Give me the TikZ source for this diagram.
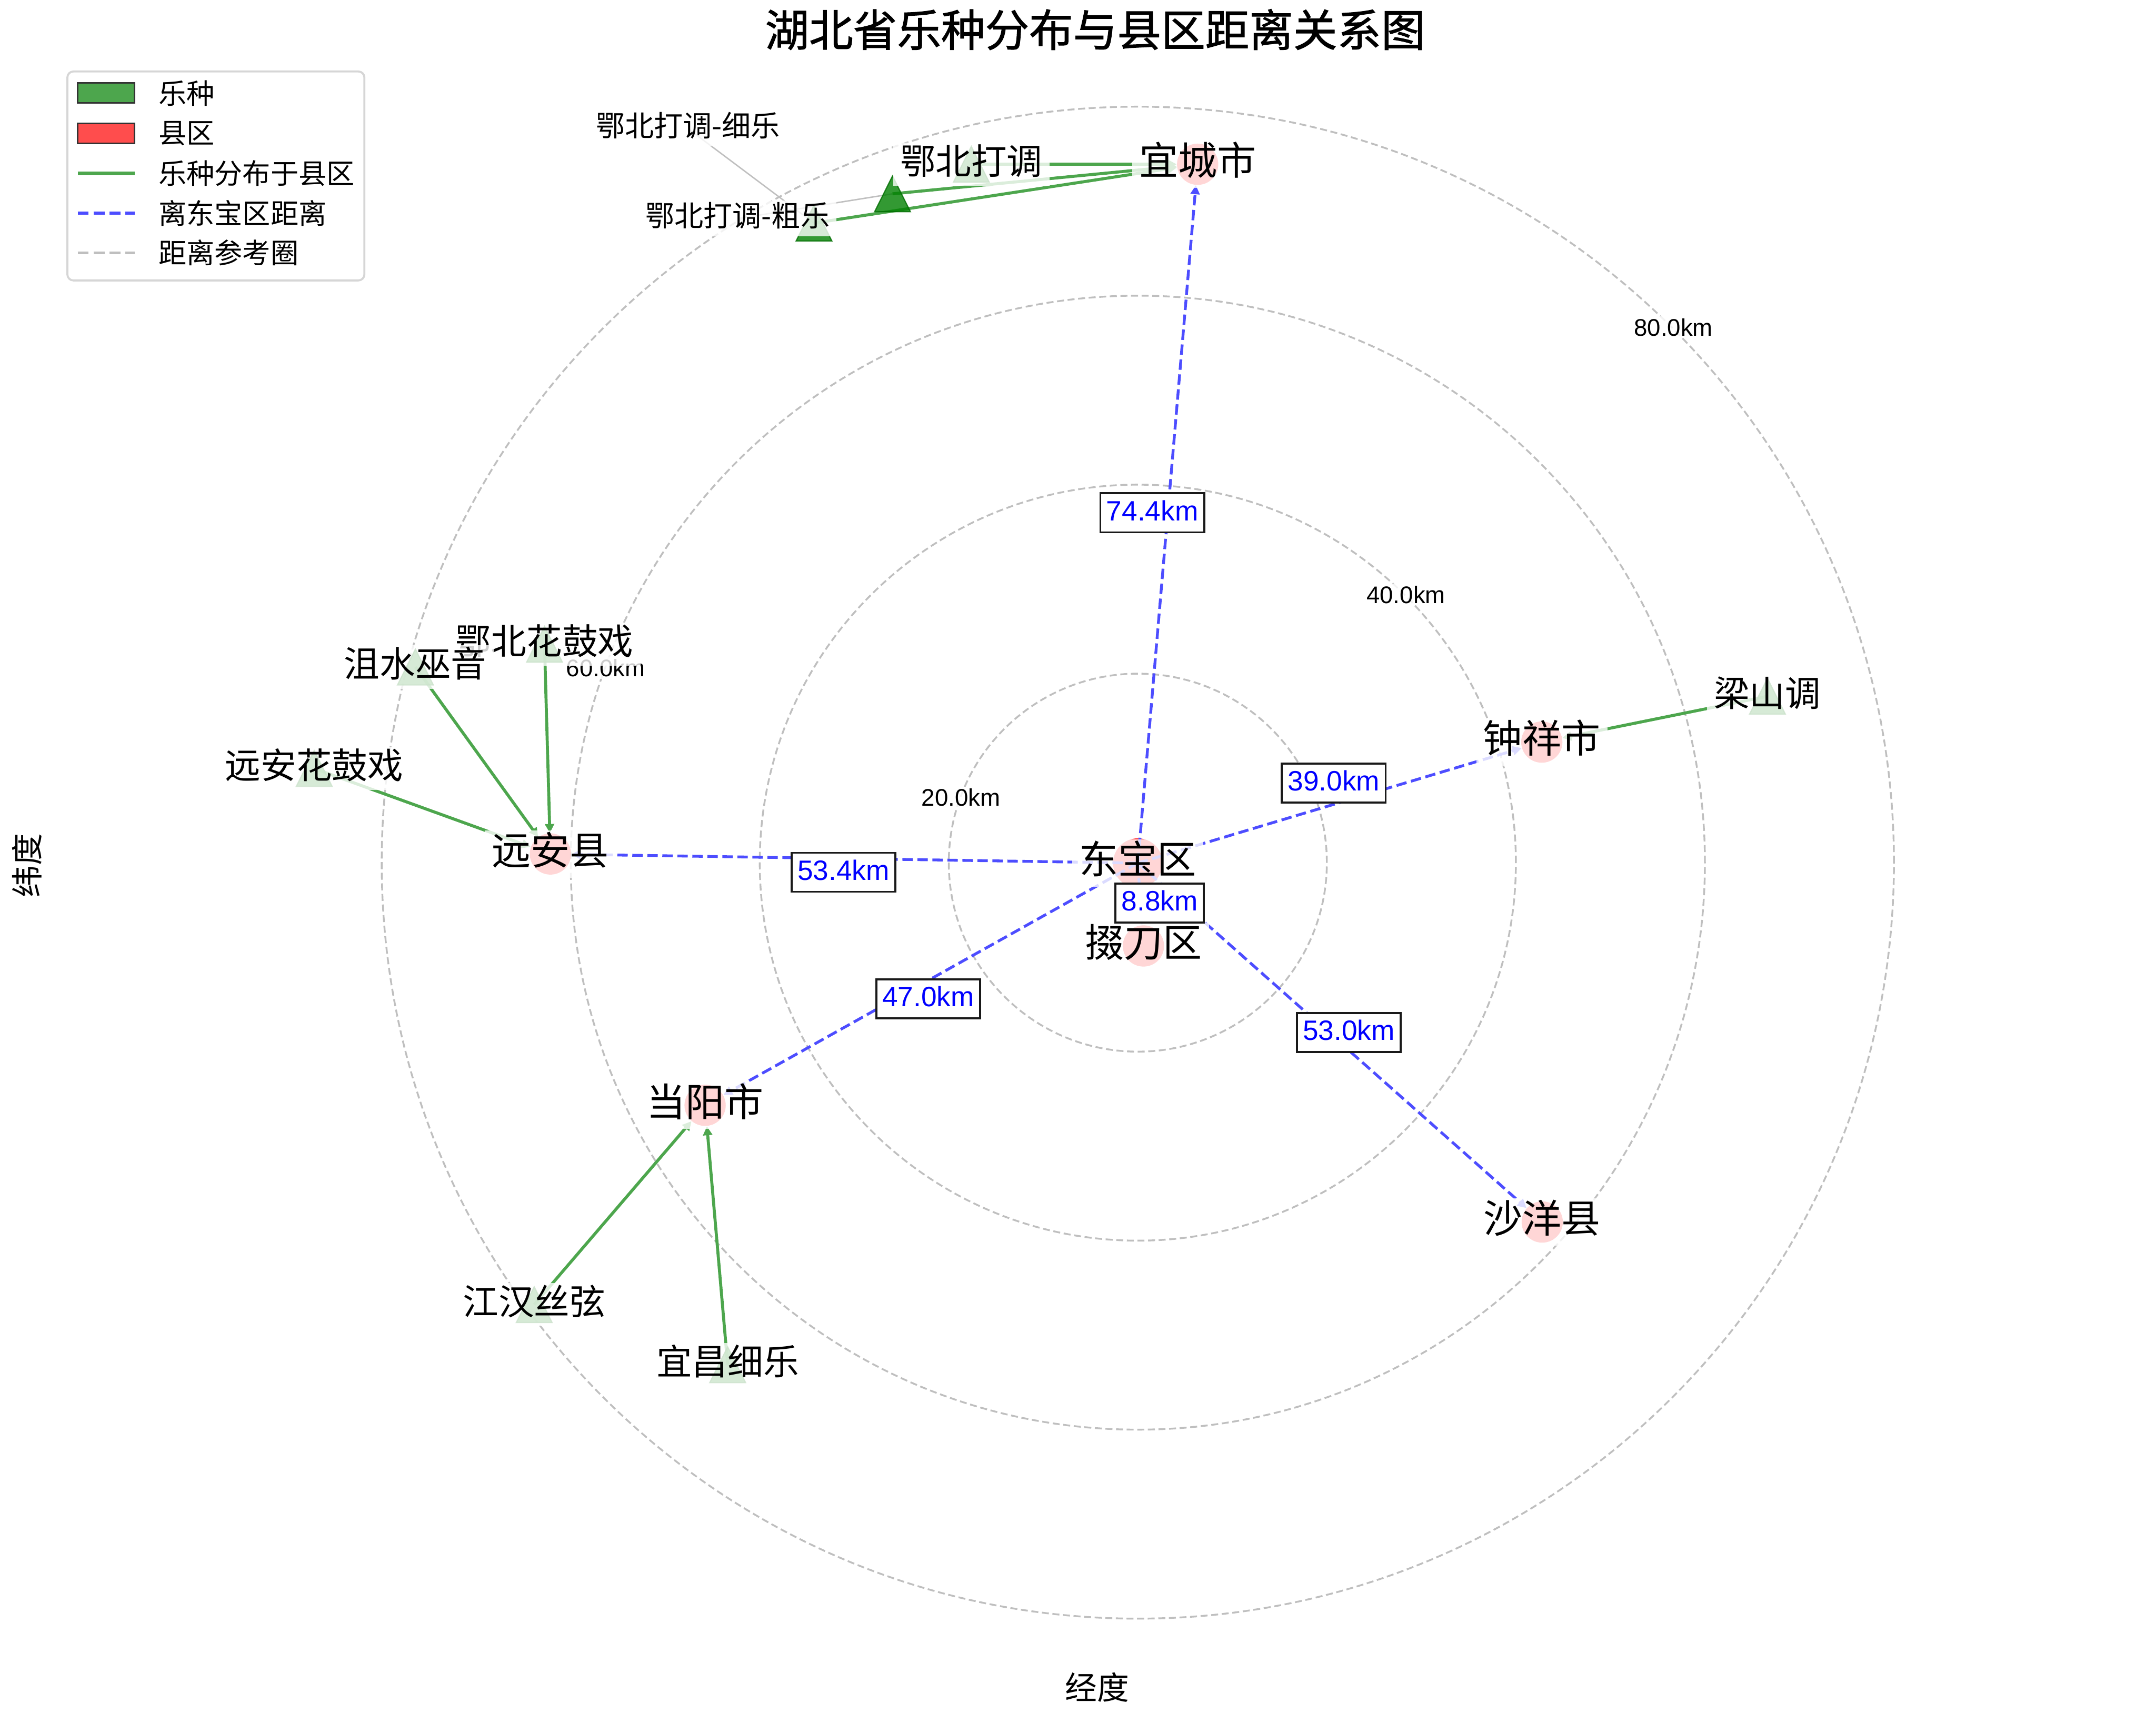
\documentclass[tikz,border=0pt]{standalone}
\usepackage{fontspec}
\setmainfont{Liberation Sans}
\newfontfamily\cjk{Noto Sans CJK SC}
\newfontfamily\cjktitle{Noto Sans CJK SC}[FakeBold=1.3]
\usepackage{xcolor}
\usetikzlibrary{arrows.meta}
\definecolor{ringgray}{RGB}{191,191,191}
\definecolor{distblue}{RGB}{77,77,255}
\definecolor{linkgreen}{RGB}{77,166,77}
\definecolor{mkgreen}{RGB}{0,128,0}
\definecolor{countyred}{RGB}{255,77,77}
\definecolor{legendedge}{RGB}{214,214,214}

\begin{document}
\begin{tikzpicture}[
  x=0.02415cm, y=-0.02415cm,
  ring/.style={draw=ringgray, line width=0.9pt, dash pattern=on 3.5pt off 1.8pt},
  ringlabel/.style={fill=white, fill opacity=0.8, text opacity=1, inner sep=1pt,
                    font=\fontsize{12}{14}\selectfont},
  county/.style={circle, fill=red, fill opacity=0.8, minimum size=0.7245cm, inner sep=0pt},
  link/.style={-{Triangle[length=4.5pt,width=4.5pt]}, line width=1.5pt, draw=linkgreen},
  dist/.style={-{Triangle[length=4.5pt,width=4.5pt]}, line width=1.4pt, draw=distblue,
               dash pattern=on 5.2pt off 2.3pt},
  leader/.style={draw=ringgray, line width=0.7pt},
  tag/.style={fill=white, fill opacity=0.8, text opacity=1, inner xsep=3.5pt, inner ysep=0.5pt},
  clabel/.style={tag, text height=16.8pt, text depth=5.85pt, font=\cjk\fontsize{19.5}{23}\selectfont},
  glabel/.style={tag, text height=15.3pt, text depth=5.3pt, font=\cjk\fontsize{17.8}{21}\selectfont},
  slabel/.style={tag, text height=12.5pt, text depth=4.35pt, font=\cjk\fontsize{14.5}{17}\selectfont},
  kmbox/.style={draw=black!90, line width=1pt, fill=white, text=blue, inner xsep=3pt, inner ysep=1.7pt,
                text height=11.9pt, text depth=4.2pt, font=\fontsize{14}{16}\selectfont},
  genre/.pic={\filldraw[fill=mkgreen, draw=mkgreen!85!black, fill opacity=0.8, draw opacity=0.8,
                        line width=0.6pt] (0,-13) -- (13,13) -- (-13,13) -- cycle;},
  legendbox/.style={draw=legendedge, line width=1pt, rounded corners=3pt, fill=white, fill opacity=0.8},
  legpatch/.style={draw=black!80, line width=0.8pt, minimum width=1.002cm, minimum height=0.35cm, inner sep=0pt},
  legtext/.style={anchor=west, inner sep=0pt, font=\cjk\fontsize{14}{17}\selectfont},
]
\useasboundingbox (0,0) rectangle (1568,1253);

\coordinate (o) at (827.5,627.5);
\draw[ring] (o) circle[radius=3.3206cm];
\draw[ring] (o) circle[radius=6.6413cm];
\draw[ring] (o) circle[radius=9.9619cm];
\draw[ring] (o) circle[radius=13.2825cm];
\node[ringlabel] (r20) at (698.8,580) {20.0km};
\node[ringlabel] (r40) at (1022.5,432.5) {40.0km};
\node[ringlabel] (r60) at (440.4,485.9) {60.0km};
\node[ringlabel] (r80) at (1217,238) {80.0km};

\coordinate (liangshan) at (1285.4,506.5);
\coordinate (ebeihuagu) at (396,468.7);
\coordinate (jushui) at (302.1,485.2);
\coordinate (yuananhuagu) at (228.5,559);
\coordinate (jianghan) at (388.5,949);
\coordinate (yichangxiyue) at (529.2,992.7);
\coordinate (ebeidadiao) at (706.4,119.5);
\coordinate (dadiaocu) at (649.1,141);
\coordinate (dadiaoxi) at (592,162.3);
\coordinate (xi-at) at (500.4,93.6);
\coordinate (cu-at) at (536.4,159);

\draw[leader] (xi-at) -- (dadiaoxi);
\draw[leader] (cu-at) -- (dadiaocu);

\node[county] (yicheng) at (871,119.5) {};
\node[county] (zhongxiang) at (1121.3,539.8) {};
\node[county] (yuanan) at (400.3,621.2) {};
\node[county] (dangyang) at (512.8,804) {};
\node[county] (shayang) at (1121.6,888.9) {};
\node[county] (duodao) at (831.6,688.1) {};
\node[county, minimum size=0.8694cm] (dongbao) at (827.5,627.8) {};

\draw[link] (liangshan) -- (zhongxiang);
\draw[link] (ebeihuagu) -- (yuanan);
\draw[link] (jushui) -- (yuanan);
\draw[link] (yuananhuagu) -- (yuanan);
\draw[link] (jianghan) -- (dangyang);
\draw[link] (yichangxiyue) -- (dangyang);
\draw[link] (ebeidadiao) -- (yicheng);
\draw[link] (dadiaocu) -- (yicheng);
\draw[link] (dadiaoxi) -- (yicheng);

\draw[dist] (dongbao.center) -- (yicheng);
\draw[dist] (dongbao.center) -- (zhongxiang);
\draw[dist] (dongbao.center) -- (yuanan);
\draw[dist] (dongbao.center) -- (duodao);
\draw[dist] (dongbao.center) -- (dangyang);
\draw[dist] (dongbao.center) -- (shayang);

\pic at (liangshan) {genre};
\pic at (ebeihuagu) {genre};
\pic at (jushui) {genre};
\pic at (yuananhuagu) {genre};
\pic at (jianghan) {genre};
\pic at (yichangxiyue) {genre};
\pic at (ebeidadiao) {genre};
\pic at (dadiaocu) {genre};
\pic at (dadiaoxi) {genre};

\node[clabel] (yicheng-t) at (yicheng) {宜城市};
\node[clabel] (zhongxiang-t) at (zhongxiang) {钟祥市};
\node[clabel] (yuanan-t) at (yuanan) {远安县};
\node[clabel] (dangyang-t) at (dangyang) {当阳市};
\node[clabel] (shayang-t) at (shayang) {沙洋县};
\node[clabel] (duodao-t) at (duodao) {掇刀区};
\node[clabel] (dongbao-t) at (dongbao) {东宝区};

\node[glabel] (liangshan-t) at (liangshan) {梁山调};
\node[glabel] (ebeihuagu-t) at (ebeihuagu) {鄂北花鼓戏};
\node[glabel] (jushui-t) at (jushui) {沮水巫音};
\node[glabel] (yuananhuagu-t) at (yuananhuagu) {远安花鼓戏};
\node[glabel] (jianghan-t) at (jianghan) {江汉丝弦};
\node[glabel] (yichangxiyue-t) at (yichangxiyue) {宜昌细乐};
\node[glabel] (ebeidadiao-t) at (ebeidadiao) {鄂北打调};
\node[slabel] (dadiaoxi-t) at (xi-at) {鄂北打调-细乐};
\node[slabel] (dadiaocu-t) at (cu-at) {鄂北打调-粗乐};

\node[kmbox] (d-yicheng) at (838,373) {74.4km};
\node[kmbox] (d-zhongxiang) at (970,569.5) {39.0km};
\node[kmbox] (d-yuanan) at (613.5,634.5) {53.4km};
\node[kmbox] (d-duodao) at (843.4,656.8) {8.8km};
\node[kmbox] (d-dangyang) at (675,726.5) {47.0km};
\node[kmbox] (d-shayang) at (981,751) {53.0km};

\draw[legendbox] (49,52) rectangle (265,204);
\node[legpatch, fill=linkgreen] (leg-genre) at (77.2,67.6) {};
\node[legpatch, fill=countyred] (leg-county) at (77.2,97) {};
\draw[linkgreen, line width=1.8pt] (56.5,126) -- (98,126);
\draw[distblue, line width=1.4pt, dash pattern=on 5.5pt off 2.4pt] (56.5,155) -- (98,155);
\draw[ringgray, line width=1.4pt, dash pattern=on 5.5pt off 2.4pt] (56.5,184) -- (98,184);
\node[legtext] (leg1) at (115,68) {乐种};
\node[legtext] (leg2) at (115,97) {县区};
\node[legtext] (leg3) at (115,126) {乐种分布于县区};
\node[legtext] (leg4) at (115,155) {离东宝区距离};
\node[legtext] (leg5) at (115,184) {距离参考圈};

\node[font=\cjktitle\fontsize{22}{26}\selectfont] (title) at (796.5,21.5) {湖北省乐种分布与县区距离关系图};
\node[font=\cjk\fontsize{16}{19}\selectfont] (xlab) at (798,1227.5) {经度};
\node[font=\cjk\fontsize{16}{19}\selectfont, rotate=90] (ylab) at (19.5,629.5) {纬度};
\end{tikzpicture}
\end{document}
